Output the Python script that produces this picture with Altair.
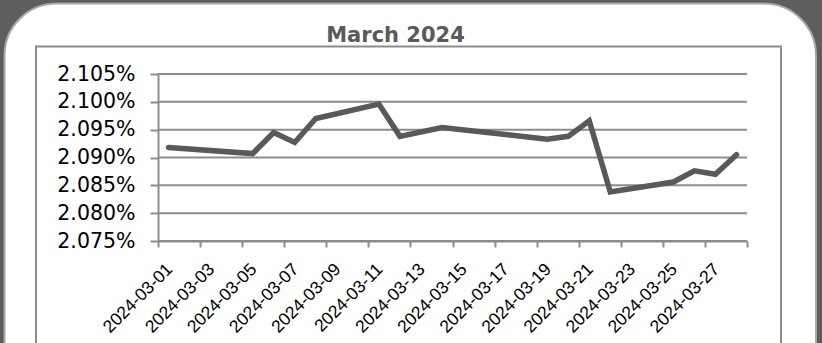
import altair as alt
import pandas as pd

# ---- data ----
dates = ["2024-03-01", "2024-03-05", "2024-03-06", "2024-03-07", "2024-03-08",
         "2024-03-11", "2024-03-12", "2024-03-14", "2024-03-19", "2024-03-20",
         "2024-03-21", "2024-03-22", "2024-03-25", "2024-03-26", "2024-03-27",
         "2024-03-28"]
rates = [2.0918, 2.0907, 2.0945, 2.0927, 2.0970,
         2.0996, 2.0938, 2.0954, 2.0933, 2.0938,
         2.0966, 2.0838, 2.0856, 2.0876, 2.0870,
         2.0905]
y_ticks = [2.075, 2.080, 2.085, 2.090, 2.095, 2.100, 2.105]
x_tick_dates = ["2024-03-01", "2024-03-03", "2024-03-05", "2024-03-07", "2024-03-09",
                "2024-03-11", "2024-03-13", "2024-03-15", "2024-03-17", "2024-03-19",
                "2024-03-21", "2024-03-23", "2024-03-25", "2024-03-27", "2024-03-29"]
x_domain = ["2024-03-01", "2024-03-29"]
title_text = "March 2024"

W, H = 589, 167
PAD = {"left": 158, "top": 74, "right": 822 - 158 - W, "bottom": 343 - 74 - H}


def dt(s):
    y, m, d = (int(p) for p in s.split("-"))
    return alt.DateTime(year=y, month=m, date=d, utc=True)


df = pd.DataFrame({"date": dates, "rate": rates})
grid_df = pd.DataFrame({"rate": y_ticks})
one = pd.DataFrame({"k": [0]})

GRAY = "#8c8c8c"

y_enc = alt.Y(
    "rate:Q",
    scale=alt.Scale(domain=[y_ticks[0], y_ticks[-1]], nice=False, zero=False),
    axis=alt.Axis(
        title="", values=y_ticks,
        labelExpr="format(datum.value, '.3f') + '%'",
        labelFont="DejaVu Sans", labelFontSize=20.5, labelColor="#000000",
        labelPadding=15, tickSize=8, tickWidth=2, tickColor=GRAY,
        domainColor=GRAY, domainWidth=2, grid=False, zindex=1,
        labelOverlap=False, labelFlush=False, labelBound=False,
    ),
)

panel = alt.Chart(one).mark_rect(
    fill="white", stroke="#a8a8a8", strokeWidth=2, cornerRadius=52
).encode(x=alt.value(-153.5), x2=alt.value(658), y=alt.value(-70.5), y2=alt.value(400))

frame = alt.Chart(one).mark_rect(
    fill="white", stroke=GRAY, strokeWidth=2
).encode(x=alt.value(-122), x2=alt.value(623), y=alt.value(-27.5), y2=alt.value(400))

grid = alt.Chart(grid_df).mark_rule(color=GRAY, strokeWidth=2).encode(
    y=y_enc, x=alt.value(0), x2=alt.value(W),
)

line = alt.Chart(df).mark_line(
    color="#595959", strokeWidth=5.5, strokeCap="round", strokeJoin="miter"
).encode(
    x=alt.X(
        "date:T", timeUnit="utcyearmonthdate", bandPosition=0.5,
        scale=alt.Scale(type="utc", domain=[dt(x_domain[0]), dt(x_domain[1])], nice=False),
        axis=alt.Axis(
            title="", values=[dt(s) for s in x_tick_dates],
            labelExpr="utcdate(datum.value) == 29 ? '' : utcFormat(datum.value, '%Y-%m-%d')",
            labelAngle=-45, labelAlign="right", labelBaseline="top",
            labelOffset=5, labelPadding=13,
            labelFont="Liberation Sans", labelFontSize=17.5, labelColor="#000000",
            tickSize=6, tickWidth=2, tickColor=GRAY,
            domainColor=GRAY, domainWidth=2, grid=False, zindex=1,
            labelOverlap=False, labelBound=False, labelFlush=False,
        ),
    ),
    y=y_enc,
)

title = alt.Chart(one).mark_text(
    text=title_text, font="DejaVu Sans", fontWeight="bold", fontSize=21,
    color="#5a5a5a", align="center", baseline="alphabetic"
).encode(x=alt.value(395.5 - 158), y=alt.value(42.3 - 74))

chart = alt.layer(panel, frame, grid, line, title).properties(
    width=W, height=H,
    autosize=alt.AutoSizeParams(type="none"),
    padding=PAD,
    background="#5e5e5e",
).configure_view(strokeWidth=0)

chart.save("out.html", embed_options={"renderer": "svg", "actions": False})
